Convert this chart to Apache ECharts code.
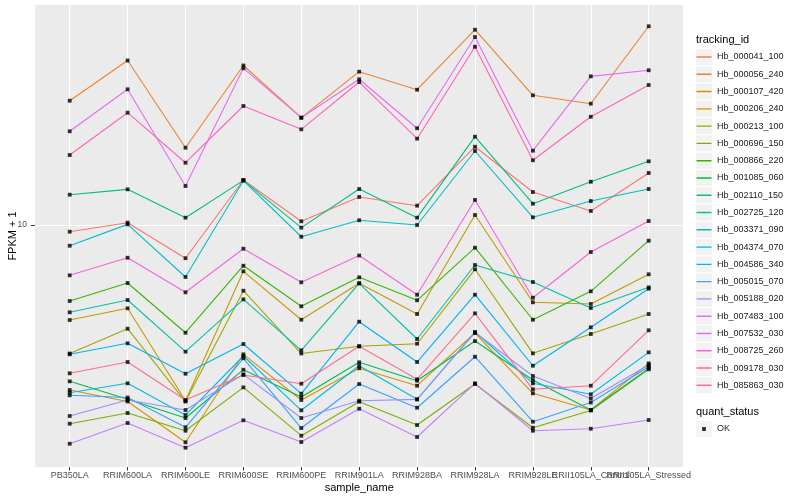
<!DOCTYPE html>
<html><head><meta charset="utf-8">
<script src="https://cdn.jsdelivr.net/npm/echarts@6/dist/echarts.min.js"></script>
<style>html,body{margin:0;padding:0;background:#fff}#c{width:800px;height:500px}</style>
</head><body><div id="c"></div>
<script>
const categories = ['PB350LA','RRIM600LA','RRIM600LE','RRIM600SE','RRIM600PE','RRIM901LA','RRIM928BA','RRIM928LA','RRIM928LE','RRII105LA_Control','RRII105LA_Stressed'];
const trackingIds = ['Hb_000041_100','Hb_000056_240','Hb_000107_420','Hb_000206_240','Hb_000213_100','Hb_000696_150','Hb_000866_220','Hb_001085_060','Hb_002110_150','Hb_002725_120','Hb_003371_090','Hb_004374_070','Hb_004586_340','Hb_005015_070','Hb_005188_020','Hb_007483_100','Hb_007532_030','Hb_008725_260','Hb_009178_030','Hb_085863_030'];
const quantStatus = ['OK'];
const yTicks = [10];

const hb_000041_100 = [9.50, 10.18, 7.75, 14.13, 10.29, 12.40, 11.60, 18.24, 12.88, 11.14, 14.91];
const hb_000056_240 = [25.96, 35.35, 18.10, 34.02, 22.79, 32.44, 28.25, 44.77, 27.06, 25.37, 45.96];
const hb_000107_420 = [2.818, 2.580, 1.887, 3.707, 2.610, 3.329, 2.913, 4.365, 2.748, 2.417, 3.459];
const hb_000206_240 = [4.823, 5.277, 2.596, 7.010, 4.834, 6.392, 5.051, 10.80, 5.525, 5.454, 6.850];
const hb_000213_100 = [3.730, 4.512, 2.580, 6.040, 3.730, 3.942, 4.021, 7.118, 3.735, 4.332, 5.051];
const hb_000696_150 = [2.176, 2.362, 2.062, 2.877, 1.985, 2.576, 2.154, 2.951, 2.110, 2.408, 3.304];
const hb_000866_220 = [5.581, 6.407, 4.375, 7.317, 5.358, 6.694, 5.611, 8.401, 4.834, 6.012, 8.866];
const hb_001085_060 = [3.013, 2.624, 2.273, 3.294, 2.671, 3.486, 3.027, 4.105, 3.043, 2.417, 3.329];
const hb_002110_150 = [12.62, 13.15, 10.58, 14.09, 9.80, 13.18, 10.58, 19.70, 11.78, 13.94, 16.31];
const hb_002725_120 = [5.117, 5.623, 3.782, 5.654, 3.822, 6.392, 4.169, 7.356, 6.457, 5.289, 6.199];
const hb_003371_090 = [8.53, 10.05, 6.71, 14.05, 9.14, 10.37, 10.00, 17.65, 10.61, 12.02, 13.18];
const hb_004374_070 = [2.761, 2.967, 2.326, 3.659, 2.412, 3.396, 2.624, 4.399, 2.967, 2.727, 3.764];
const hb_004586_340 = [3.707, 4.034, 3.194, 4.012, 2.740, 4.762, 3.494, 5.857, 3.396, 4.560, 6.133];
const hb_005015_070 = [2.706, 2.661, 2.117, 3.595, 2.105, 2.951, 2.460, 3.639, 2.210, 2.561, 3.370];
const hb_005188_020 = [2.309, 2.610, 2.417, 3.179, 2.273, 2.596, 2.624, 4.382, 3.138, 2.641, 3.415];
const hb_007483_100 = [1.866, 2.188, 1.810, 2.234, 1.891, 2.442, 1.965, 2.967, 2.062, 2.094, 2.239];
const hb_007532_030 = [20.53, 28.34, 13.49, 33.29, 22.79, 30.60, 21.01, 42.33, 17.69, 31.30, 32.80];
const hb_008725_260 = [6.797, 7.780, 5.966, 8.337, 6.442, 7.913, 5.857, 12.12, 5.724, 8.128, 10.31];
const hb_009178_030 = [17.11, 23.68, 16.13, 24.93, 20.84, 29.96, 19.40, 39.29, 16.44, 22.96, 29.29];
const hb_085863_030 = [3.204, 3.494, 2.610, 3.162, 2.958, 3.942, 3.060, 5.077, 2.834, 2.913, 4.457];

const seriesValues = [hb_000041_100, hb_000056_240, hb_000107_420, hb_000206_240, hb_000213_100, hb_000696_150, hb_000866_220, hb_001085_060, hb_002110_150, hb_002725_120, hb_003371_090, hb_004374_070, hb_004586_340, hb_005015_070, hb_005188_020, hb_007483_100, hb_007532_030, hb_008725_260, hb_009178_030, hb_085863_030];

const colors = ['#F8766D','#EA8331','#D89000','#C09B00','#A3A500','#7CAE00','#39B600','#00BB4E','#00BF7D','#00C1A3','#00BFC4','#00BAE0','#00B0F6','#35A2FF','#9590FF','#C77CFF','#E76BF3','#FA62DB','#FF62BC','#FF6C91'];

const font = 'Liberation Sans, Arial, Helvetica, sans-serif';
const yMin = 1.561, yMax = 54.12;
const lineIcon = 'path://M0,0h0.01v0.01h-0.01zM0.5,7.3h15v1.4h-15zM15.99,15.99h0.01v0.01h-0.01z';
const dotIcon = 'path://M0,0h0.01v0.01h-0.01zM6.1,6.1h3.8v3.8h-3.8zM15.99,15.99h0.01v0.01h-0.01z';

const lineSeries = trackingIds.map((id, i) => ({
  name: id, type: 'line', xAxisIndex: 0, yAxisIndex: 0,
  data: seriesValues[i], showSymbol: false, symbol: 'none',
  lineStyle: { color: colors[i], width: 1.1 }, itemStyle: { color: colors[i] },
  silent: true, z: 2
}));
const points = [];
seriesValues.forEach(arr => arr.forEach((v, j) => points.push([j, v])));
const pointSeries = {
  name: quantStatus[0], type: 'scatter', xAxisIndex: 0, yAxisIndex: 0,
  data: points, symbol: 'rect', symbolSize: 3.8,
  itemStyle: { color: '#000' }, silent: true, z: 3
};

const legendCommon = {
  orient: 'vertical', left: 696, itemWidth: 16, itemHeight: 16, itemGap: 1.28,
  padding: 0, selectedMode: false, itemStyle: { borderWidth: 0 },
  textStyle: { fontFamily: font, fontSize: 9, color: '#1a1a1a' }
};

const option = {
  animation: false,
  backgroundColor: '#ffffff',
  textStyle: { fontFamily: font },
  title: [
    { text: 'tracking_id', left: 696, top: 34, padding: 0, textStyle: { fontFamily: font, fontSize: 11, fontWeight: 'normal', color: '#000' } },
    { text: 'quant_status', left: 696, top: 406, padding: 0, textStyle: { fontFamily: font, fontSize: 11, fontWeight: 'normal', color: '#000' } }
  ],
  legend: [
    Object.assign({}, legendCommon, { top: 49, z: 4, data: trackingIds.map(n => ({ name: n, icon: 'rect', itemStyle: { color: '#F2F2F2', borderWidth: 0 } })), textStyle: { fontFamily: font, fontSize: 9, color: 'rgba(0,0,0,0)' } }),
    Object.assign({}, legendCommon, { top: 49, z: 5, icon: lineIcon, data: trackingIds.map((n, i) => ({ name: n, itemStyle: { color: colors[i], borderWidth: 0 } })) }),
    Object.assign({}, legendCommon, { top: 421, z: 4, data: quantStatus.map(n => ({ name: n, icon: 'rect', itemStyle: { color: '#F2F2F2', borderWidth: 0 } })), textStyle: { fontFamily: font, fontSize: 9, color: 'rgba(0,0,0,0)' } }),
    Object.assign({}, legendCommon, { top: 421, z: 5, icon: dotIcon, data: quantStatus.map(n => ({ name: n, itemStyle: { color: '#000', borderWidth: 0 } })) })
  ],
  grid: [
    { left: 69.7, right: 151.3, top: 5, bottom: 33, containLabel: false, outerBoundsMode: 'none', z: 1 },
    { left: 35, right: 117, top: 5, bottom: 33, containLabel: false, outerBoundsMode: 'none', show: true, backgroundColor: '#EBEBEB', borderWidth: 0, z: -10 }
  ],
  xAxis: [
    {
      gridIndex: 0, type: 'category', data: categories, boundaryGap: false,
      axisLine: { show: false },
      axisTick: { show: true, interval: 0, length: 3.5, lineStyle: { color: '#333333', width: 1 } },
      axisLabel: { interval: 0, hideOverlap: false, fontFamily: font, fontSize: 9, color: '#4D4D4D', margin: 4 },
      splitLine: { show: true, interval: 0, lineStyle: { color: '#ffffff', width: 1.07 } },
      name: 'sample_name', nameLocation: 'middle', nameGap: 15, nameMoveOverlap: false,
      nameTextStyle: { fontFamily: font, fontSize: 11, color: '#000' }
    },
    { gridIndex: 1, type: 'value', min: 0, max: 1, show: false }
  ],
  yAxis: [
    { gridIndex: 0, type: 'log', logBase: 10, min: yMin, max: yMax, show: false },
    {
      gridIndex: 1, type: 'log', logBase: 10, min: yMin, max: yMax, z: -5,
      axisLine: { show: false },
      axisTick: { show: true, customValues: yTicks, length: 4, lineStyle: { color: '#333333', width: 1 } },
      axisLabel: { customValues: yTicks, fontFamily: font, fontSize: 8.5, color: '#4D4D4D', margin: 8, showMinLabel: false, showMaxLabel: false },
      splitLine: { show: true, lineStyle: { color: '#ffffff', width: 1.07 } },
      minorSplitLine: { show: false },
      name: 'FPKM + 1', nameLocation: 'middle', nameGap: 17, nameMoveOverlap: false,
      nameTextStyle: { fontFamily: font, fontSize: 11, color: '#000' }
    }
  ],
  series: lineSeries.concat([pointSeries])
};
const chart = echarts.init(document.getElementById('c'), null, { renderer: 'canvas' });
chart.setOption(option);
</script>
</body></html>
